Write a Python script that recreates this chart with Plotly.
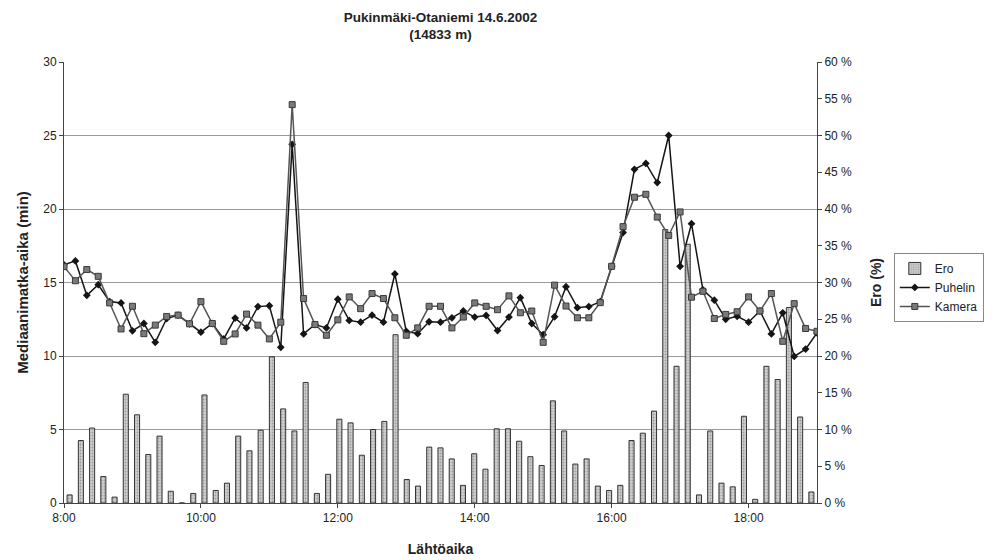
import plotly.graph_objects as go

TIMES = [
    "8:00", "8:10", "8:20", "8:30", "8:40", "8:50",
    "9:00", "9:10", "9:20", "9:30", "9:40", "9:50",
    "10:00", "10:10", "10:20", "10:30", "10:40", "10:50",
    "11:00", "11:10", "11:20", "11:30", "11:40", "11:50",
    "12:00", "12:10", "12:20", "12:30", "12:40", "12:50",
    "13:00", "13:10", "13:20", "13:30", "13:40", "13:50",
    "14:00", "14:10", "14:20", "14:30", "14:40", "14:50",
    "15:00", "15:10", "15:20", "15:30", "15:40", "15:50",
    "16:00", "16:10", "16:20", "16:30", "16:40", "16:50",
    "17:00", "17:10", "17:20", "17:30", "17:40", "17:50",
    "18:00", "18:10", "18:20", "18:30", "18:40", "18:50",
    "19:00",
]

PUHELIN = [
    16.2, 16.47, 14.13, 14.85, 13.7, 13.61, 11.71, 12.21, 10.93, 12.55,
    12.78, 12.19, 11.62, 12.21, 11.16, 12.58, 11.91, 13.36, 13.42, 10.59,
    24.4, 11.5, 12.14, 11.91, 13.86, 12.42, 12.30, 12.78, 12.30, 15.58,
    11.68, 11.52, 12.33, 12.30, 12.60, 13.06, 12.65, 12.76, 11.73, 12.65,
    13.97, 12.21, 11.45, 12.67, 14.71, 13.29, 13.36, 13.7, 16.1, 18.4,
    22.7, 23.1, 21.8, 25.0, 16.1, 19.0, 14.5, 13.8, 12.5, 12.7,
    12.3, 13.06, 11.5, 12.94, 9.97, 10.47, 11.57,
]

KAMERA = [
    16.08, 15.12, 15.88, 15.42, 13.61, 11.84, 13.38, 11.52, 12.10, 12.69,
    12.78, 12.19, 13.70, 12.21, 11.00, 11.50, 12.85, 12.10, 11.16, 12.30,
    27.1, 13.91, 12.14, 11.41, 12.46, 14.02, 13.22, 14.25, 13.91, 12.60,
    11.41, 11.91, 13.38, 13.38, 11.91, 12.65, 13.61, 13.38, 13.15, 14.09,
    12.94, 13.06, 10.93, 14.82, 13.40, 12.6, 12.6, 13.63, 16.1, 18.8,
    20.8, 21.0, 19.45, 18.2, 19.8, 14.0, 14.4, 12.55, 12.83, 13.01,
    14.02, 13.06, 14.25, 11.0, 13.56, 11.87, 11.68,
]

ERO = [
    1.1, 8.5, 10.2, 3.6, 0.8, 14.8, 12.0, 6.6, 9.1, 1.6,
    0.0, 1.3, 14.7, 1.7, 2.7, 9.1, 7.1, 9.9, 19.9, 12.8,
    9.8, 16.4, 1.3, 3.9, 11.4, 10.9, 6.5, 10.0, 11.1, 22.9,
    3.2, 2.3, 7.6, 7.5, 6.0, 2.4, 6.7, 4.6, 10.1, 10.1,
    8.4, 6.3, 5.1, 13.9, 9.8, 5.3, 6.0, 2.3, 1.7, 2.4,
    8.5, 9.5, 12.5, 37.2, 18.6, 35.2, 1.1, 9.8, 2.7, 2.2,
    11.8, 0.5, 18.6, 16.8, 26.6, 11.7, 1.5,
]

TICK_TIMES = ["08:00", "10:00", "12:00", "14:00", "16:00", "18:00"]
TICK_LABELS = ["8:00", "10:00", "12:00", "14:00", "16:00", "18:00"]

DAY = "2002-06-14 "
line_x = [DAY + t.zfill(5) for t in TIMES]

FONT = "Arial, 'Liberation Sans', sans-serif"

fig = go.Figure()

fig.add_trace(go.Bar(
    x=TIMES, y=ERO, name="Ero",
    xaxis="x", yaxis="y",
    marker=dict(
        color="#c4c4c4",
        line=dict(color="#333333", width=1),
        pattern=dict(shape=".", fgcolor="#6e6e6e", bgcolor="#cfcfcf", size=3, solidity=0.35),
    ),
))

fig.add_trace(go.Scatter(
    x=line_x, y=PUHELIN, name="Puhelin", mode="lines+markers",
    xaxis="x2", yaxis="y2",
    line=dict(color="#151515", width=1.5),
    marker=dict(symbol="diamond", size=6, color="#151515"),
))

fig.add_trace(go.Scatter(
    x=line_x, y=KAMERA, name="Kamera", mode="lines+markers",
    xaxis="x2", yaxis="y2",
    line=dict(color="#555555", width=1.5),
    marker=dict(symbol="square", size=6, color="#7a7a7a", line=dict(color="#3a3a3a", width=1)),
))

# the page body has an 8px margin, so the figure is drawn 8px in from the top-left
fig.update_layout(
    width=988, height=552,
    margin=dict(l=56, r=177, t=54, b=57),
    paper_bgcolor="white", plot_bgcolor="white",
    font=dict(family=FONT, size=12, color="#222222"),
    showlegend=True,
    bargap=0.55,
    title=dict(
        text="<b>Pukinmäki-Otaniemi 14.6.2002<br>(14833 m)</b>",
        x=0.5, xref="paper", xanchor="center",
        y=0.975, yanchor="top",
        font=dict(family=FONT, size=13.5, color="#222222"),
    ),
    xaxis=dict(
        type="category", range=[-0.5, 66.5], visible=False,
        fixedrange=True,
    ),
    yaxis=dict(
        side="right", range=[0, 60], dtick=5, ticksuffix=" %",
        showgrid=False, zeroline=False, automargin=False,
        showline=True, linecolor="#444444", linewidth=1,
        ticks="outside", ticklen=4, tickcolor="#444444",
        tickfont=dict(size=12),
        title=dict(text="<b>Ero (%)</b>", font=dict(size=14), standoff=20),
    ),
    xaxis2=dict(
        type="date", overlaying="x", side="bottom",
        range=[DAY + "08:00", DAY + "19:00"],
        tickvals=[DAY + t for t in TICK_TIMES], ticktext=TICK_LABELS,
        showgrid=False, zeroline=False, automargin=False,
        showline=True, linecolor="#444444", linewidth=1,
        ticks="outside", ticklen=4, tickcolor="#444444",
        tickfont=dict(size=12),
        title=dict(text="<b>Lähtöaika</b>", font=dict(size=14), standoff=19),
    ),
    yaxis2=dict(
        overlaying="y", side="left", range=[0, 30], dtick=5,
        showgrid=True, gridcolor="#9a9a9a", gridwidth=1,
        zeroline=False, automargin=False,
        showline=True, linecolor="#444444", linewidth=1,
        ticks="outside", ticklen=4, tickcolor="#444444",
        tickfont=dict(size=12),
        title=dict(text="<b>Mediaanimatka-aika (min)</b>", font=dict(size=15), standoff=10),
    ),
    legend=dict(
        x=1.102, xanchor="left", y=0.567, yanchor="top",
        bordercolor="#888888", borderwidth=1, bgcolor="white",
        font=dict(size=12), tracegroupgap=0,
    ),
)

fig.write_html("out.html")
